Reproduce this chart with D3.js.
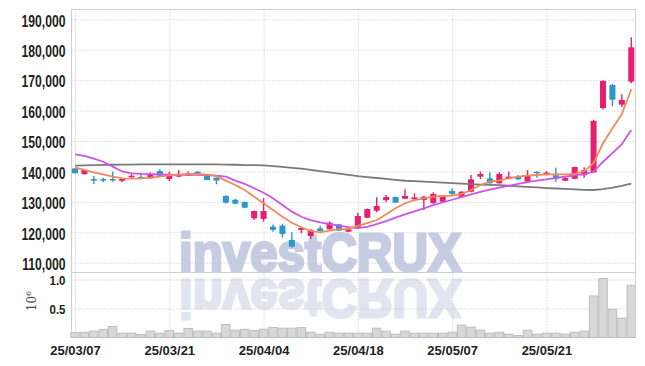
<!DOCTYPE html>
<html>
<head>
<meta charset="utf-8">
<script src="https://cdn.jsdelivr.net/npm/d3@7"></script>
<style>
  body { margin: 0; background: #fff; }
  svg { display: block; }
  .tick text { font-family: "Liberation Sans", Arial, sans-serif; font-weight: bold; fill: #222; }
  .grid line { stroke: #bcc3d6; stroke-dasharray: 1,2; }
</style>
</head>
<body>
<svg id="chart" width="645" height="366"></svg>
<script>
// trading days (tick every 10th)
const dates = [
  "25/03/07","25/03/10","25/03/11","25/03/12","25/03/13","25/03/14","25/03/17","25/03/18","25/03/19","25/03/20",
  "25/03/21","25/03/24","25/03/25","25/03/26","25/03/27","25/03/28","25/03/31","25/04/01","25/04/02","25/04/03",
  "25/04/04","25/04/07","25/04/08","25/04/09","25/04/10","25/04/11","25/04/14","25/04/15","25/04/16","25/04/17",
  "25/04/18","25/04/21","25/04/22","25/04/23","25/04/24","25/04/25","25/04/28","25/04/29","25/04/30","25/05/02",
  "25/05/07","25/05/08","25/05/09","25/05/12","25/05/13","25/05/14","25/05/15","25/05/16","25/05/19","25/05/20",
  "25/05/21","25/05/22","25/05/23","25/05/26","25/05/27","25/05/28","25/05/29","25/05/30","25/06/02","25/06/04"
]

const opens = [
  141000,139100,137500,137500,137500,136900,138200,138200,137750,140150,
  137500,138300,138600,139900,138750,137950,131950,130700,129950,124600,
  124400,121850,122200,117500,120800,118800,121300,121000,122600,120200,
  121500,124800,127100,130600,131600,131050,130850,130600,129550,130050,
  133600,131700,133350,138300,137750,136100,137600,138300,136650,139900,
  139150,138750,136950,137600,138750,139700,160850,168400,161950,169500
]
const closes = [
  139400,140500,137000,137000,137200,137500,138600,137600,139100,138600,
  139150,138850,139400,139200,137200,137000,129750,129400,128100,127000,
  127000,120800,119450,115300,121400,120750,120450,123150,120550,121000,
  125350,127650,128650,131600,129750,131950,131500,131700,132600,131950,
  132600,133350,137400,139150,136100,139150,138300,137400,138750,139600,
  139600,137600,137850,141450,140400,156600,169750,163600,163500,180800
]
const highs = [
  141100,140800,138500,137950,140000,137600,139100,139600,139700,140700,
  139900,140500,140050,140100,138900,138100,132200,131000,130100,127200,
  131200,122600,122800,120000,121800,121000,122150,123600,122800,121200,
  126450,127800,131500,132250,131700,134150,132800,132000,133150,132100,
  134450,133500,138800,139950,139700,139700,139900,138800,140400,140000,
  140150,141250,138600,141600,141350,157000,170000,168800,165350,184100
]
const lows = [
  139300,139000,135900,136450,136600,136500,137600,137400,137600,138500,
  136900,138100,138500,139000,137100,135800,129500,129200,127900,124050,
  123500,120200,118300,114950,119700,117800,120300,120900,120400,120000,
  121300,124600,126600,129850,129600,130900,130700,127300,129400,129900,
  131900,131500,133200,137500,135950,135950,137450,137300,136500,137950,
  138700,136650,136800,137450,137950,139500,160400,161400,161100,168950
]
// volume, in millions
const volumes = [
  0.086,0.09,0.11,0.14,0.19,0.074,0.074,0.052,0.11,0.074,
  0.12,0.074,0.155,0.11,0.11,0.074,0.224,0.126,0.14,0.12,
  0.143,0.172,0.16,0.16,0.172,0.09,0.057,0.09,0.074,0.074,
  0.074,0.074,0.16,0.11,0.057,0.11,0.074,0.074,0.074,0.074,
  0.09,0.212,0.178,0.126,0.074,0.09,0.057,0.034,0.126,0.057,
  0.074,0.074,0.057,0.09,0.11,0.717,1.017,0.488,0.333,0.902
]
// moving averages as drawn
const ma5 = [
  141240,140480,139720,139070,138280,137750,137620,137750,137950,138280,
  138740,138940,139170,139170,138940,138450,136970,135550,133900,131710,
  129540,127330,125140,123160,121650,120440,120000,120540,121000,121100,
  122100,123000,124050,125920,127900,129540,130620,131180,131710,131940,
  132040,132590,133900,135550,136640,137100,137750,138280,138600,138830,
  139070,139070,139070,139170,140050,142780,149250,154180,158880,167000
]
const ma10 = [
  145600,145100,144200,143200,141600,140000,139400,139200,139100,139000,
  138950,138900,138900,138900,138800,138600,138300,137000,135900,134500,
  133000,131200,129000,126800,125100,124000,123300,122700,122200,121700,
  121400,121800,122700,123700,124800,125900,126900,127900,128900,129800,
  130700,131600,132500,133300,134000,134700,135300,135900,136500,137000,
  137400,137900,138300,138700,139100,139900,143200,146000,149000,153600
]
const ma60 = [
  141900,142000,142100,142150,142200,142250,142250,142300,142300,142300,
  142300,142300,142300,142350,142350,142300,142250,142200,142100,142050,
  142000,141750,141500,141200,140900,140500,140100,139700,139300,138900,
  138450,138150,137850,137550,137250,136950,136800,136650,136500,136300,
  136150,136000,135850,135700,135600,135500,135300,135100,134900,134750,
  134550,134400,134250,134100,133950,133900,134200,134700,135300,136000
]
const priceTicks = [110000,120000,130000,140000,150000,160000,170000,180000,190000]
const volTicks = [0.5, 1.0]
const dateTicks = dates.filter((d, i) => i % 10 === 0)

const upColor = "#e6206e"
const downColor = "#2f96c8"

const svg = d3.select("#chart")
const pLeft = 71.5, pRight = 635.5, pTop = 9.5, pMid = 272.5, pBottom = 337.5

const x = d3.scalePoint().domain(dates).range([70.3, 636]).padding(0.5)
const step = x.step()
const y = d3.scaleLinear().domain([106860, 193290]).range([272.3, 9.3])
const yv = d3.scaleLinear().domain([0, 1]).range([pBottom, 279.5])

// squeeze a text horizontally so the label font looks condensed
function squeeze(sel, k) {
  sel.each(function () {
    const w = this.getComputedTextLength()
    d3.select(this).attr("textLength", w * k).attr("lengthAdjust", "spacingAndGlyphs")
  })
}

// watermark, plus a mirrored copy of it as the reflection
const wm = svg.append("g")
  .style("font-family", "Liberation Sans, Arial, sans-serif")
  .style("font-weight", "bold").style("font-size", "54px")
wm.append("text")
  .attr("id", "wmark")
  .attr("x", 179).attr("y", 271)
  .attr("textLength", 282).attr("lengthAdjust", "spacingAndGlyphs")
  .attr("fill", "#c6cde2").attr("stroke", "#c6cde2").attr("stroke-width", 3)
  .text("investCRUX")
wm.append("use")
  .attr("href", "#wmark")
  .attr("transform", "translate(0,551) scale(1,-1)")
  .attr("opacity", 0.5)

// grids
svg.append("g")
  .attr("class", "grid")
  .attr("transform", `translate(${pLeft},0)`)
  .call(d3.axisLeft(y).tickValues(priceTicks).tickSize(-(pRight - pLeft)).tickFormat(""))
  .call(g => g.select(".domain").remove())
svg.append("g")
  .attr("class", "grid")
  .attr("transform", `translate(${pLeft},0)`)
  .call(d3.axisLeft(yv).tickValues(volTicks).tickSize(-(pRight - pLeft)).tickFormat(""))
  .call(g => g.select(".domain").remove())
svg.append("g")
  .attr("class", "grid")
  .attr("transform", `translate(0,${pBottom})`)
  .call(d3.axisBottom(x).tickValues(dateTicks).tickSize(-(pBottom - pTop)).tickFormat(""))
  .call(g => g.select(".domain").remove())

// volume bars
svg.append("g")
  .selectAll("rect")
  .data(volumes)
  .join("rect")
  .attr("x", (d, i) => x(dates[i]) - step / 2 + 0.5)
  .attr("width", step - 1)
  .attr("y", d => yv(d))
  .attr("height", d => pBottom - yv(d))
  .attr("fill", "#d8d8d8")
  .attr("stroke", "#bdbdbd")
  .attr("stroke-width", 1)

// candles
const candles = svg.append("g")
  .selectAll("g")
  .data(dates)
  .join("g")
  .attr("fill", (d, i) => closes[i] >= opens[i] ? upColor : downColor)
  .attr("stroke", (d, i) => closes[i] >= opens[i] ? upColor : downColor)

candles.append("line")
  .attr("x1", d => x(d)).attr("x2", d => x(d))
  .attr("y1", (d, i) => y(highs[i]))
  .attr("y2", (d, i) => y(lows[i]))
  .attr("stroke-width", 1.4)

candles.append("rect")
  .attr("x", d => x(d) - step * 0.32)
  .attr("width", step * 0.64)
  .attr("y", (d, i) => y(Math.max(opens[i], closes[i])))
  .attr("height", (d, i) => Math.max(1.5, Math.abs(y(opens[i]) - y(closes[i]))))
  .attr("stroke", "none")

// moving averages
const line = d3.line().x((d, i) => x(dates[i])).y(d => y(d))
svg.append("path").datum(ma60).attr("d", line)
  .attr("fill", "none").attr("stroke", "#7a7a7a").attr("stroke-width", 1.8)
svg.append("path").datum(ma10).attr("d", line)
  .attr("fill", "none").attr("stroke", "#cc55e6").attr("stroke-width", 1.8)
svg.append("path").datum(ma5).attr("d", line)
  .attr("fill", "none").attr("stroke", "#f08a5a").attr("stroke-width", 1.8)

// frame
const frame = svg.append("g").attr("stroke", "#cfcfcf").attr("stroke-width", 1)
frame.append("line").attr("x1", pLeft).attr("x2", pRight).attr("y1", pTop).attr("y2", pTop)
frame.append("line").attr("x1", pLeft).attr("x2", pRight).attr("y1", pMid).attr("y2", pMid)
frame.append("line").attr("x1", pLeft).attr("x2", pLeft).attr("y1", pTop).attr("y2", pBottom)
frame.append("line").attr("x1", pRight).attr("x2", pRight).attr("y1", pTop).attr("y2", pBottom)

// axes
svg.append("g")
  .attr("transform", `translate(${pLeft},0)`)
  .call(d3.axisLeft(y).tickValues(priceTicks).tickSize(0).tickPadding(6).tickFormat(d3.format(",")))
  .call(g => g.select(".domain").remove())
  .selectAll("text").style("font-size", "16px").attr("dy", "0.42em")
  .call(squeeze, 0.76)

svg.append("g")
  .attr("transform", `translate(${pLeft},0)`)
  .call(d3.axisLeft(yv).tickValues(volTicks).tickSize(0).tickPadding(6).tickFormat(d3.format(".1f")))
  .call(g => g.select(".domain").remove())
  .selectAll("text").style("font-size", "13.5px").attr("dy", "0.4em")
  .call(squeeze, 0.85)

svg.append("g")
  .attr("transform", `translate(0,${pBottom})`)
  .call(d3.axisBottom(x).tickValues(dateTicks).tickSize(0).tickPadding(8))
  .call(g => g.select(".domain").remove())
  .selectAll("text").style("font-size", "13px")

const unit = svg.append("text")
  .attr("transform", "translate(36,301) rotate(-90)")
  .attr("text-anchor", "middle")
  .style("font-family", "DejaVu Serif, serif")
  .style("font-size", "12px")
  .attr("fill", "#444")
unit.append("tspan").text("10")
unit.append("tspan").attr("dy", -5).style("font-size", "8px").text("6")
</script>
</body>
</html>
